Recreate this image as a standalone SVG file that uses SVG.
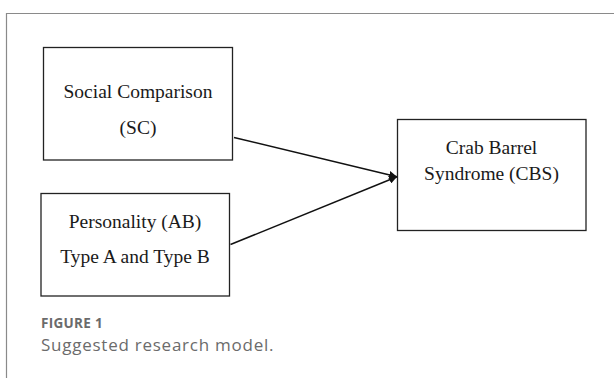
<svg xmlns="http://www.w3.org/2000/svg" width="614" height="378" viewBox="0 0 614 378">
<style>
.box{fill:#fff;stroke:#222;stroke-width:1.3}
.t{font-family:"Liberation Serif",serif;font-size:19.5px;fill:#1a1a1a;text-anchor:middle}
.conn{stroke:#111;stroke-width:1.5;fill:none}
.cap1{font-family:"Open Sans",sans-serif;font-size:13.5px;font-weight:bold;fill:#6b6b6b;letter-spacing:0.3px}
.cap2{font-family:"Open Sans",sans-serif;font-size:17px;fill:#6b6b6b;letter-spacing:0.75px}
</style>
<defs>
<marker id="ah" viewBox="0 0 10 10" refX="10" refY="5" markerWidth="8" markerHeight="8" markerUnits="userSpaceOnUse" orient="auto">
<path d="M0,0 L10,5 L0,10 z" fill="#111"/>
</marker>
</defs>
<rect width="614" height="378" fill="#fff"/>
<path d="M6.5,378 V13.5 H614" fill="none" stroke="#8a8a8a" stroke-width="1.2"/>
<g id="sc">
<rect class="box" x="43.5" y="47.5" width="189" height="112.5"/>
<text class="t" x="138" y="98">Social Comparison</text>
<text class="t" x="138" y="134">(SC)</text>
</g>
<g id="ab">
<rect class="box" x="41" y="193.5" width="188.5" height="102.5"/>
<text class="t" x="135" y="228">Personality (AB)</text>
<text class="t" x="135" y="263">Type A and Type B</text>
</g>
<g id="cbs">
<rect class="box" x="397.5" y="119.5" width="188.5" height="111"/>
<text class="t" x="491.5" y="154">Crab Barrel</text>
<text class="t" x="491.5" y="179.5">Syndrome (CBS)</text>
</g>
<g id="connectors">
<line class="conn" x1="234" y1="137.5" x2="397" y2="176.8" marker-end="url(#ah)"/>
<line class="conn" x1="230.5" y1="244.5" x2="397" y2="176.8" marker-end="url(#ah)"/>
</g>
<text class="cap1" x="41" y="328">FIGURE 1</text>
<text class="cap2" x="41" y="350.5">Suggested research model.</text>
</svg>
